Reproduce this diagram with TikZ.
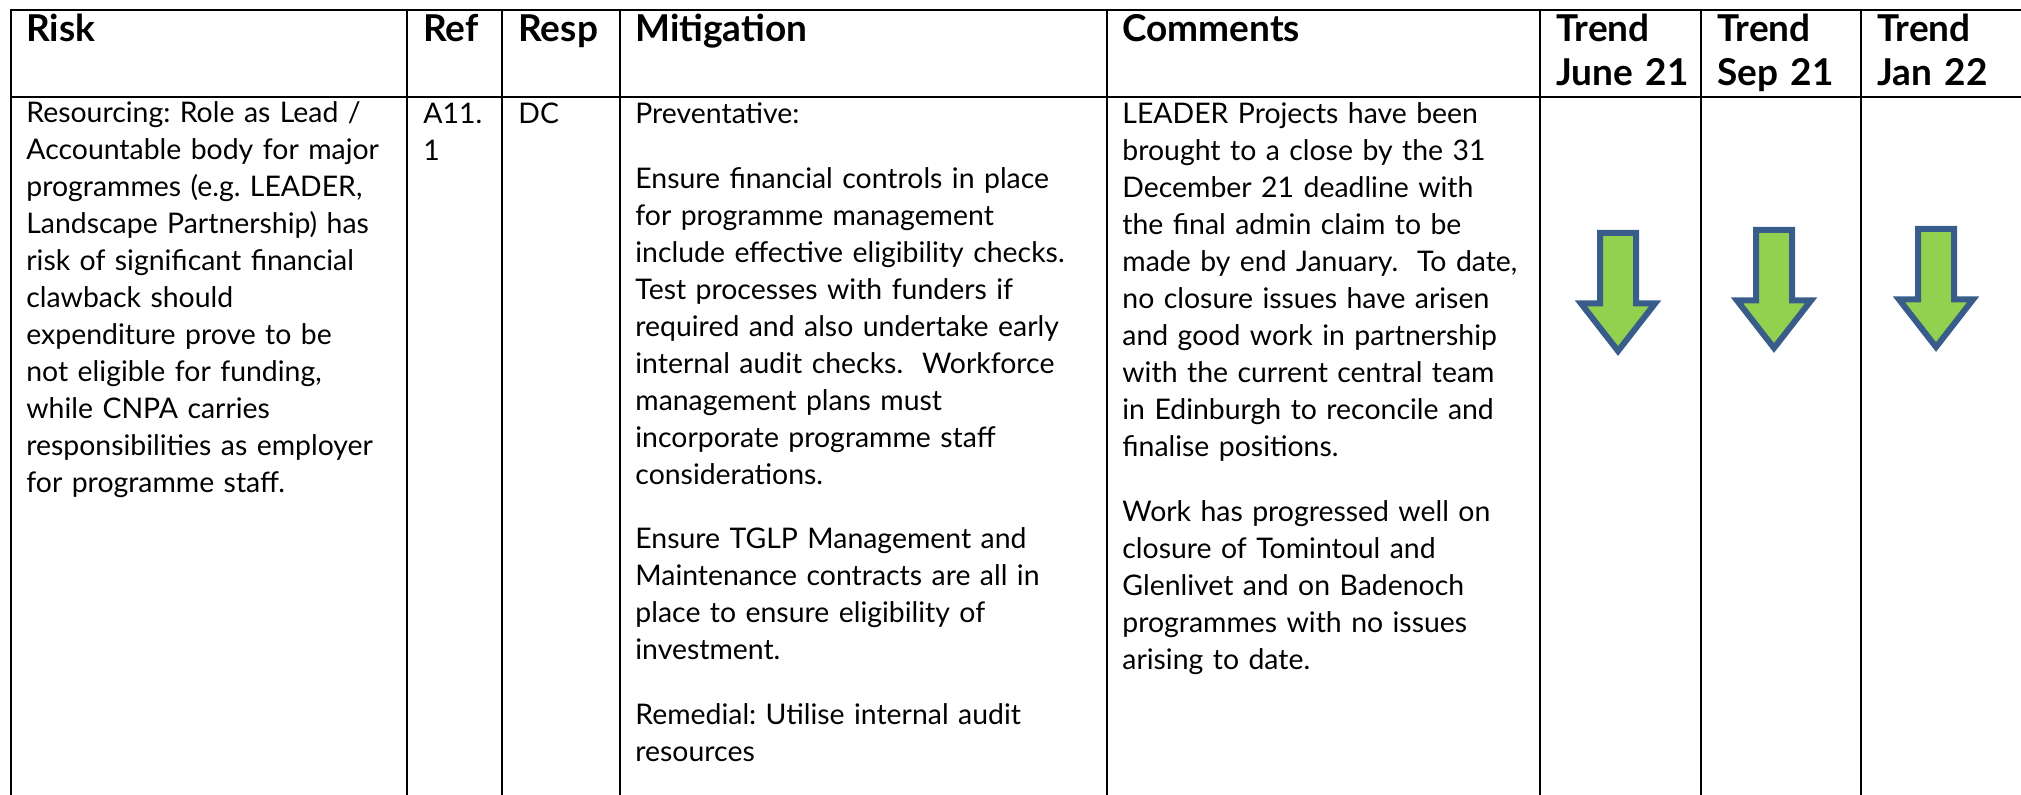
\documentclass[tikz,border=0pt]{standalone}
\usepackage{fontspec}
\setmainfont{Lato}
\frenchspacing
\definecolor{trendgreen}{HTML}{92D050}
\definecolor{trendblue}{HTML}{385D8A}

\begin{document}
\begin{tikzpicture}[
      x=0.5pt, y=-0.5pt,
      cell/.style={anchor=base west, inner sep=0pt, align=left,
        font=\fontsize{14.2}{18.5}\selectfont},
      head/.style={anchor=base west, inner sep=0pt, align=left,
        font=\fontsize{18.5}{22}\selectfont\bfseries},
      rule/.style={line width=1.1pt, line cap=rect},
      trend/.style={draw=trendblue, fill=trendgreen, line width=3pt, line join=miter}
      ]
      \useasboundingbox (0,0) rectangle (2021,795);

  % Table rules
  \draw[rule] (2021,10) -- (11,10) -- (11,795);
  \draw[rule] (11,97) -- (2021,97);
  \foreach \x in {407,502,620,1107,1540,1700.7,1860.7}
    \draw[rule] (\x,10) -- (\x,795);

  % Header row
      \node[head, text width=170pt] (h1) at (26,41.5) {Risk};
      \node[head, text width=40pt]  (h2) at (423,41.5) {Ref};
      \node[head, text width=50pt]  (h3) at (518,41.5) {Resp};
      \node[head, text width=220pt] (h4) at (635,41.5) {Mitigation};
      \node[head, text width=200pt] (h5) at (1122,41.5) {Comments};
      \node[head, text width=80pt]  (h6) at (1556,41.5) {Trend\\June 21};
      \node[head, text width=80pt]  (h7) at (1717,41.5) {Trend\\Sep 21};
      \node[head, text width=80pt]  (h8) at (1877,41.5) {Trend\\Jan 22};

  % Body row
      \node[cell, text width=190pt] (b1) at (26,123) {Resourcing: Role as Lead /\\
        Accountable body for major\\
        programmes (e.g. LEADER,\\
        Landscape Partnership) has\\
        risk of significant financial\\
        clawback should\\
        expenditure prove to be\\
        not eligible for funding,\\
        while CNPA carries\\
        responsibilities as employer\\
        for programme staff.};
      \node[cell, text width=40pt] (b2) at (423,124) {A11.\\1};
      \node[cell, text width=50pt] (b3) at (518,124) {DC};
      \node[cell, text width=236pt] (b4) at (635,124) {Preventative:\\[13.75pt]
        Ensure financial controls in place\\
        for programme management\\
        include effective eligibility checks.\\
        Test processes with funders if\\
        required and also undertake early\\
        internal audit checks.\ \ Workforce\\
        management plans must\\
        incorporate programme staff\\
        considerations.\\[13.75pt]
        Ensure TGLP Management and\\
        Maintenance contracts are all in\\
        place to ensure eligibility of\\
        investment.\\[13.75pt]
        Remedial: Utilise internal audit\\
        resources};
      \node[cell, text width=215pt] (b5) at (1122,124) {LEADER Projects have been\\
        brought to a close by the 31\\
        December 21 deadline with\\
        the final admin claim to be\\
        made by end January.\ \ To date,\\
        no closure issues have arisen\\
        and good work in partnership\\
        with the current central team\\
        in Edinburgh to reconcile and\\
        finalise positions.\\[13.75pt]
        Work has progressed well on\\
        closure of Tomintoul and\\
        Glenlivet and on Badenoch\\
        programmes with no issues\\
        arising to date.};

  % Trend arrows
  \foreach \cx/\ty in {1618/233,1774/230,1936/229}
    \draw[trend] (\cx-18,\ty) -- (\cx+18,\ty) -- (\cx+18,\ty+70.5)
      -- (\cx+37,\ty+70.5) -- (\cx,\ty+118) -- (\cx-37,\ty+70.5)
      -- (\cx-18,\ty+70.5) -- cycle;

\end{tikzpicture}
\end{document}
